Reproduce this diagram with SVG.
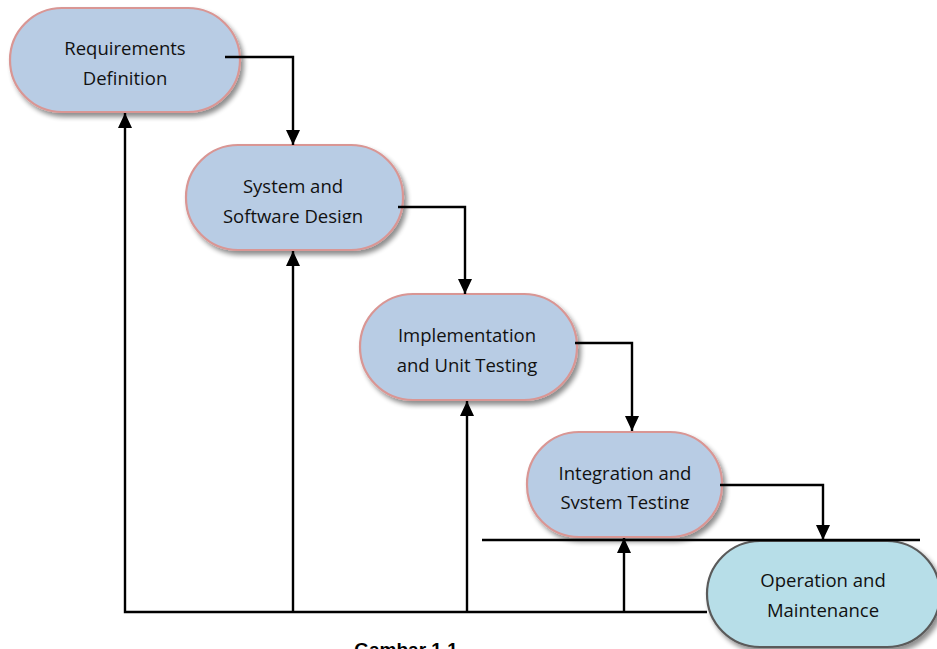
<svg xmlns="http://www.w3.org/2000/svg" width="937" height="649" viewBox="0 0 937 649">
<defs>
<style>
.node{fill:#B8CCE4;stroke:#D99694;stroke-width:2.2}
.op{fill:#B7DEE8;stroke:#5A5A5A;stroke-width:2.2}
.lbl{font-family:"Open Sans","Noto Sans",sans-serif;font-size:18.5px;fill:#111;text-anchor:middle}
.cap{font-family:"Liberation Sans",Arial,sans-serif;font-size:19px;font-weight:bold;fill:#000;text-anchor:middle}
.conn{fill:none;stroke:#000;stroke-width:2.4}
</style>
<filter id="sh" x="-10%" y="-10%" width="130%" height="140%">
<feGaussianBlur in="SourceAlpha" stdDeviation="2.5"/>
<feOffset dx="3" dy="4" result="b"/>
<feComponentTransfer><feFuncA type="linear" slope="0.45"/></feComponentTransfer>
<feMerge><feMergeNode/><feMergeNode in="SourceGraphic"/></feMerge>
</filter>
<marker id="ah" viewBox="0 0 15 14" refX="15" refY="7" markerWidth="15" markerHeight="14" markerUnits="userSpaceOnUse" orient="auto">
<path d="M0,0 L15,7 L0,14 Z" fill="#000"/>
</marker>
<clipPath id="c2"><rect x="180" y="140" width="230" height="83"/></clipPath>
<clipPath id="c4"><rect x="520" y="425" width="210" height="84"/></clipPath>
</defs>
<rect width="937" height="649" fill="#fff"/>
<g id="n1">
<rect class="node" x="10" y="8" width="230" height="104" rx="52" filter="url(#sh)"/>
<text class="lbl" x="125" y="55">Requirements</text>
<text class="lbl" x="125" y="85">Definition</text>
</g>
<g id="n2">
<rect class="node" x="186" y="145" width="217" height="105" rx="52" filter="url(#sh)"/>
<g clip-path="url(#c2)">
<text class="lbl" x="293" y="193">System and</text>
<text class="lbl" x="293" y="223">Software Design</text>
</g>
</g>
<g id="n3">
<rect class="node" x="360" y="294" width="217" height="106" rx="53" filter="url(#sh)"/>
<text class="lbl" x="467" y="342">Implementation</text>
<text class="lbl" x="467" y="372">and Unit Testing</text>
</g>
<g id="n4">
<rect class="node" x="527" y="432" width="195" height="105" rx="52" filter="url(#sh)"/>
<g clip-path="url(#c4)">
<text class="lbl" x="625" y="480">Integration and</text>
<text class="lbl" x="625" y="509">System Testing</text>
</g>
</g>
<g id="n5">
<rect class="op" x="707" y="541" width="233" height="106" rx="53" filter="url(#sh)"/>
<text class="lbl" x="823" y="587">Operation and</text>
<text class="lbl" x="823" y="617">Maintenance</text>
</g>
<g id="connectors">
<polyline class="conn" points="225,57 293,57 293,145" marker-end="url(#ah)"/>
<polyline class="conn" points="398,207 465,207 465,294" marker-end="url(#ah)"/>
<polyline class="conn" points="575,343 632,343 632,431" marker-end="url(#ah)"/>
<polyline class="conn" points="720,485 823,485 823,540" marker-end="url(#ah)"/>
<line class="conn" x1="482" y1="540" x2="920" y2="540"/>
<polyline class="conn" points="707,612 125,612 125,113" marker-end="url(#ah)"/>
<line class="conn" x1="293" y1="612" x2="293" y2="251" marker-end="url(#ah)"/>
<line class="conn" x1="467" y1="612" x2="467" y2="401" marker-end="url(#ah)"/>
<line class="conn" x1="624" y1="612" x2="624" y2="538" marker-end="url(#ah)"/>
</g>
<text class="cap" x="406" y="656">Gambar 1.1</text>
</svg>
